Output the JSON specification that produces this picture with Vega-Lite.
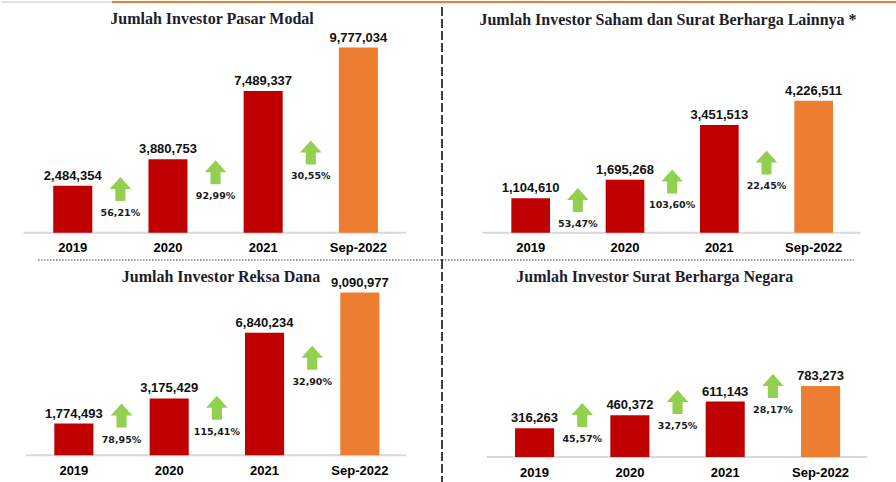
{
  "$schema": "https://vega.github.io/schema/vega-lite/v6.json",
  "padding": 0,
  "spacing": 0,
  "bounds": "flush",
  "columns": 2,
  "background": "white",
  "config": {
    "view": {"stroke": null},
    "title": {"font": "Liberation Serif", "fontSize": 16, "fontWeight": "bold", "color": "#1d1d2b", "anchor": "middle", "frame": "group", "baseline": "alphabetic"},
    "axisX": {"domain": false, "ticks": false, "tickSize": 0, "grid": false, "labelPadding": 15, "labelBaseline": "middle", "labelAngle": 0, "labelFont": "Liberation Sans", "labelFontSize": 13, "labelFontWeight": "bold", "labelColor": "#000000"}
  },
  "datasets": {
    "bars": [
      {"panel": "modal", "period": "2019", "value": 2484354, "period_type": "Full year"},
      {"panel": "modal", "period": "2020", "value": 3880753, "period_type": "Full year"},
      {"panel": "modal", "period": "2021", "value": 7489337, "period_type": "Full year"},
      {"panel": "modal", "period": "Sep-2022", "value": 9777034, "period_type": "Year to date"},
      {"panel": "saham", "period": "2019", "value": 1104610, "period_type": "Full year"},
      {"panel": "saham", "period": "2020", "value": 1695268, "period_type": "Full year"},
      {"panel": "saham", "period": "2021", "value": 3451513, "period_type": "Full year"},
      {"panel": "saham", "period": "Sep-2022", "value": 4226511, "period_type": "Year to date"},
      {"panel": "reksa", "period": "2019", "value": 1774493, "period_type": "Full year"},
      {"panel": "reksa", "period": "2020", "value": 3175429, "period_type": "Full year"},
      {"panel": "reksa", "period": "2021", "value": 6840234, "period_type": "Full year"},
      {"panel": "reksa", "period": "Sep-2022", "value": 9090977, "period_type": "Year to date"},
      {"panel": "sbn", "period": "2019", "value": 316263, "period_type": "Full year"},
      {"panel": "sbn", "period": "2020", "value": 460372, "period_type": "Full year"},
      {"panel": "sbn", "period": "2021", "value": 611143, "period_type": "Full year"},
      {"panel": "sbn", "period": "Sep-2022", "value": 783273, "period_type": "Year to date"}
    ],
    "growth": [
      {"panel": "modal", "from": "2019", "to": "2020", "growth": "56,21%", "level": 2309000},
      {"panel": "modal", "from": "2020", "to": "2021", "growth": "92,99%", "level": 3196000},
      {"panel": "modal", "from": "2021", "to": "Sep-2022", "growth": "30,55%", "level": 4237000},
      {"panel": "saham", "from": "2019", "to": "2020", "growth": "53,47%", "level": 1048000},
      {"panel": "saham", "from": "2020", "to": "2021", "growth": "103,60%", "level": 1641000},
      {"panel": "saham", "from": "2021", "to": "Sep-2022", "growth": "22,45%", "level": 2250000},
      {"panel": "reksa", "from": "2019", "to": "2020", "growth": "78,95%", "level": 2223000},
      {"panel": "reksa", "from": "2020", "to": "2021", "growth": "115,41%", "level": 2659000},
      {"panel": "reksa", "from": "2021", "to": "Sep-2022", "growth": "32,90%", "level": 5453000},
      {"panel": "sbn", "from": "2019", "to": "2020", "growth": "45,57%", "level": 463100},
      {"panel": "sbn", "from": "2020", "to": "2021", "growth": "32,75%", "level": 606400},
      {"panel": "sbn", "from": "2021", "to": "Sep-2022", "growth": "28,17%", "level": 782800}
    ]
  },
  "concat": [
    {
      "width": 441,
      "height": 259,
      "title": {"text": "Jumlah Investor Pasar Modal", "dx": -9.5, "offset": -26},
      "layer": [
        {"data": {"values": [{}]}, "mark": {"type": "rule", "color": "#D9D9D9", "strokeWidth": 1.5},
         "encoding": {"y": {"datum": 12187000, "type": "quantitative", "scale": {"domain": [-1442000, 12240000], "nice": false, "zero": false}, "axis": null}}},
        {"data": {"values": [{}]}, "mark": {"type": "rule", "color": "#ED7D31", "strokeWidth": 2},
         "encoding": {
           "x": {"datum": "2019", "type": "nominal", "bandPosition": 1.506, "scale": {"domain": ["2019", "2020", "2021", "Sep-2022"], "paddingInner": 0.59, "paddingOuter": 0.611, "align": 0.449}, "axis": {"offset": -27.3}, "title": null},
           "x2": {"value": "width"},
           "y": {"datum": 12187000, "type": "quantitative", "scale": {"domain": [-1442000, 12240000], "nice": false, "zero": false}, "axis": null}}},
        {"data": {"values": [{}]}, "mark": {"type": "rule", "color": "#000000", "strokeWidth": 1.5, "strokeDash": [9, 3]},
         "encoding": {
           "x": {"value": "width"},
           "y": {"datum": 11923000, "type": "quantitative", "scale": {"domain": [-1442000, 12240000], "nice": false, "zero": false}, "axis": null},
           "y2": {"value": "height"}}},
        {"data": {"values": [{}]}, "mark": {"type": "rule", "color": "#404040", "strokeWidth": 1, "strokeDash": [1.5, 1.5]},
         "encoding": {
           "x": {"datum": "2019", "type": "nominal", "bandPosition": -0.389, "scale": {"domain": ["2019", "2020", "2021", "Sep-2022"], "paddingInner": 0.59, "paddingOuter": 0.611, "align": 0.449}, "axis": {"offset": -27.3}, "title": null},
           "x2": {"value": "width"},
           "y": {"value": "height"}}},
        {"data": {"values": [{}]}, "mark": {"type": "rule", "color": "#D9D9D9", "strokeWidth": 2},
         "encoding": {
           "x": {"datum": "2019", "type": "nominal", "bandPosition": -0.759, "scale": {"domain": ["2019", "2020", "2021", "Sep-2022"], "paddingInner": 0.59, "paddingOuter": 0.611, "align": 0.449}, "axis": {"offset": -27.3}, "title": null},
           "x2": {"datum": "Sep-2022", "bandPosition": 1.72},
           "y": {"datum": 0, "type": "quantitative", "scale": {"domain": [-1442000, 12240000], "nice": false, "zero": false}, "axis": null}}},
        {"data": {"name": "bars"}, "transform": [{"filter": "datum.panel === 'modal'"}],
         "mark": {"type": "bar"},
         "encoding": {
           "x": {"field": "period", "type": "nominal", "title": null, "scale": {"domain": ["2019", "2020", "2021", "Sep-2022"], "paddingInner": 0.59, "paddingOuter": 0.611, "align": 0.449}, "axis": {"offset": -27.3}},
           "y": {"field": "value", "type": "quantitative", "scale": {"domain": [-1442000, 12240000], "nice": false, "zero": false}, "axis": null},
           "color": {"field": "period_type", "type": "nominal", "scale": {"domain": ["Full year", "Year to date"], "range": ["#C00000", "#ED7D31"]}, "legend": null}}},
        {"data": {"name": "bars"}, "transform": [{"filter": "datum.panel === 'modal'"}],
         "mark": {"type": "text", "font": "Liberation Sans", "fontWeight": "bold", "fontSize": 13, "baseline": "alphabetic", "dy": -6, "color": "#111111"},
         "encoding": {
           "x": {"field": "period", "type": "nominal", "title": null, "scale": {"domain": ["2019", "2020", "2021", "Sep-2022"], "paddingInner": 0.59, "paddingOuter": 0.611, "align": 0.449}, "axis": {"offset": -27.3}},
           "y": {"field": "value", "type": "quantitative", "scale": {"domain": [-1442000, 12240000], "nice": false, "zero": false}, "axis": null},
           "text": {"field": "value", "type": "quantitative", "format": ","}}},
        {"data": {"name": "growth"}, "transform": [{"filter": "datum.panel === 'modal'"}],
         "mark": {"type": "point", "shape": "M0,-1L0.9,0L0.42,0L0.42,1L-0.42,1L-0.42,0L-0.9,0Z", "size": 576, "filled": true, "color": "#92D050", "opacity": 1, "strokeWidth": 0},
         "encoding": {
           "x": {"field": "from", "type": "nominal", "bandPosition": 1.7195, "title": null, "scale": {"domain": ["2019", "2020", "2021", "Sep-2022"], "paddingInner": 0.59, "paddingOuter": 0.611, "align": 0.449}, "axis": {"offset": -27.3}},
           "y": {"field": "level", "type": "quantitative", "scale": {"domain": [-1442000, 12240000], "nice": false, "zero": false}, "axis": null}}},
        {"data": {"name": "growth"}, "transform": [{"filter": "datum.panel === 'modal'"}],
         "mark": {"type": "text", "font": "DejaVu Sans", "fontWeight": "bold", "fontSize": 9.5, "baseline": "middle", "dy": 24, "color": "#1a1a1a"},
         "encoding": {
           "x": {"field": "from", "type": "nominal", "bandPosition": 1.7195, "title": null, "scale": {"domain": ["2019", "2020", "2021", "Sep-2022"], "paddingInner": 0.59, "paddingOuter": 0.611, "align": 0.449}, "axis": {"offset": -27.3}},
           "y": {"field": "level", "type": "quantitative", "scale": {"domain": [-1442000, 12240000], "nice": false, "zero": false}, "axis": null},
           "text": {"field": "growth", "type": "nominal"}}}
      ]
    },
    {
      "width": 455,
      "height": 259,
      "title": {"text": "Jumlah Investor Saham dan Surat Berharga Lainnya *", "dx": -1.5, "offset": -27},
      "layer": [
        {"data": {"values": [{}]}, "mark": {"type": "rule", "color": "#ED7D31", "strokeWidth": 2},
         "encoding": {"y": {"datum": 7394000, "type": "quantitative", "scale": {"domain": [-875000, 7426000], "nice": false, "zero": false}, "axis": null}}},
        {"data": {"values": [{}]}, "mark": {"type": "rule", "color": "#404040", "strokeWidth": 1, "strokeDash": [1.5, 1.5]},
         "encoding": {
           "x": {"datum": "2019", "type": "nominal", "bandPosition": -1.792, "scale": {"domain": ["2019", "2020", "2021", "Sep-2022"], "paddingInner": 0.59, "paddingOuter": 0.7067, "align": 0.52}, "axis": {"offset": -27.3}, "title": null},
           "x2": {"datum": "Sep-2022", "bandPosition": 1.543},
           "y": {"value": "height"}}},
        {"data": {"values": [{}]}, "mark": {"type": "rule", "color": "#D9D9D9", "strokeWidth": 2},
         "encoding": {
           "x": {"datum": "2019", "type": "nominal", "bandPosition": -0.75, "scale": {"domain": ["2019", "2020", "2021", "Sep-2022"], "paddingInner": 0.59, "paddingOuter": 0.7067, "align": 0.52}, "axis": {"offset": -27.3}, "title": null},
           "x2": {"datum": "Sep-2022", "bandPosition": 1.717},
           "y": {"datum": 0, "type": "quantitative", "scale": {"domain": [-875000, 7426000], "nice": false, "zero": false}, "axis": null}}},
        {"data": {"name": "bars"}, "transform": [{"filter": "datum.panel === 'saham'"}],
         "mark": {"type": "bar"},
         "encoding": {
           "x": {"field": "period", "type": "nominal", "title": null, "scale": {"domain": ["2019", "2020", "2021", "Sep-2022"], "paddingInner": 0.59, "paddingOuter": 0.7067, "align": 0.52}, "axis": {"offset": -27.3}},
           "y": {"field": "value", "type": "quantitative", "scale": {"domain": [-875000, 7426000], "nice": false, "zero": false}, "axis": null},
           "color": {"field": "period_type", "type": "nominal", "scale": {"domain": ["Full year", "Year to date"], "range": ["#C00000", "#ED7D31"]}, "legend": null}}},
        {"data": {"name": "bars"}, "transform": [{"filter": "datum.panel === 'saham'"}],
         "mark": {"type": "text", "font": "Liberation Sans", "fontWeight": "bold", "fontSize": 13, "baseline": "alphabetic", "dy": -6, "color": "#111111"},
         "encoding": {
           "x": {"field": "period", "type": "nominal", "title": null, "scale": {"domain": ["2019", "2020", "2021", "Sep-2022"], "paddingInner": 0.59, "paddingOuter": 0.7067, "align": 0.52}, "axis": {"offset": -27.3}},
           "y": {"field": "value", "type": "quantitative", "scale": {"domain": [-875000, 7426000], "nice": false, "zero": false}, "axis": null},
           "text": {"field": "value", "type": "quantitative", "format": ","}}},
        {"data": {"name": "growth"}, "transform": [{"filter": "datum.panel === 'saham'"}],
         "mark": {"type": "point", "shape": "M0,-1L0.9,0L0.42,0L0.42,1L-0.42,1L-0.42,0L-0.9,0Z", "size": 576, "filled": true, "color": "#92D050", "opacity": 1, "strokeWidth": 0},
         "encoding": {
           "x": {"field": "from", "type": "nominal", "bandPosition": 1.7195, "title": null, "scale": {"domain": ["2019", "2020", "2021", "Sep-2022"], "paddingInner": 0.59, "paddingOuter": 0.7067, "align": 0.52}, "axis": {"offset": -27.3}},
           "y": {"field": "level", "type": "quantitative", "scale": {"domain": [-875000, 7426000], "nice": false, "zero": false}, "axis": null}}},
        {"data": {"name": "growth"}, "transform": [{"filter": "datum.panel === 'saham'"}],
         "mark": {"type": "text", "font": "DejaVu Sans", "fontWeight": "bold", "fontSize": 9.5, "baseline": "middle", "dy": 24, "color": "#1a1a1a"},
         "encoding": {
           "x": {"field": "from", "type": "nominal", "bandPosition": 1.7195, "title": null, "scale": {"domain": ["2019", "2020", "2021", "Sep-2022"], "paddingInner": 0.59, "paddingOuter": 0.7067, "align": 0.52}, "axis": {"offset": -27.3}},
           "y": {"field": "level", "type": "quantitative", "scale": {"domain": [-875000, 7426000], "nice": false, "zero": false}, "axis": null},
           "text": {"field": "growth", "type": "nominal"}}}
      ]
    },
    {
      "width": 441,
      "height": 223,
      "title": {"text": "Jumlah Investor Reksa Dana", "dx": -0.5, "offset": -26},
      "layer": [
        {"data": {"values": [{}]}, "mark": {"type": "rule", "color": "#000000", "strokeWidth": 1.5, "strokeDash": [9, 3]},
         "encoding": {"x": {"value": "width"}}},
        {"data": {"values": [{}]}, "mark": {"type": "rule", "color": "#D9D9D9", "strokeWidth": 2},
         "encoding": {
           "x": {"datum": "2019", "type": "nominal", "bandPosition": -0.724, "scale": {"domain": ["2019", "2020", "2021", "Sep-2022"], "paddingInner": 0.59, "paddingOuter": 0.608, "align": 0.46}, "axis": {"offset": -27.7}, "title": null},
           "x2": {"datum": "Sep-2022", "bandPosition": 1.68},
           "y": {"datum": 0, "type": "quantitative", "scale": {"domain": [-1547000, 10911000], "nice": false, "zero": false}, "axis": null}}},
        {"data": {"name": "bars"}, "transform": [{"filter": "datum.panel === 'reksa'"}],
         "mark": {"type": "bar"},
         "encoding": {
           "x": {"field": "period", "type": "nominal", "title": null, "scale": {"domain": ["2019", "2020", "2021", "Sep-2022"], "paddingInner": 0.59, "paddingOuter": 0.608, "align": 0.46}, "axis": {"offset": -27.7}},
           "y": {"field": "value", "type": "quantitative", "scale": {"domain": [-1547000, 10911000], "nice": false, "zero": false}, "axis": null},
           "color": {"field": "period_type", "type": "nominal", "scale": {"domain": ["Full year", "Year to date"], "range": ["#C00000", "#ED7D31"]}, "legend": null}}},
        {"data": {"name": "bars"}, "transform": [{"filter": "datum.panel === 'reksa'"}],
         "mark": {"type": "text", "font": "Liberation Sans", "fontWeight": "bold", "fontSize": 13, "baseline": "alphabetic", "dy": -6, "color": "#111111"},
         "encoding": {
           "x": {"field": "period", "type": "nominal", "title": null, "scale": {"domain": ["2019", "2020", "2021", "Sep-2022"], "paddingInner": 0.59, "paddingOuter": 0.608, "align": 0.46}, "axis": {"offset": -27.7}},
           "y": {"field": "value", "type": "quantitative", "scale": {"domain": [-1547000, 10911000], "nice": false, "zero": false}, "axis": null},
           "text": {"field": "value", "type": "quantitative", "format": ","}}},
        {"data": {"name": "growth"}, "transform": [{"filter": "datum.panel === 'reksa'"}],
         "mark": {"type": "point", "shape": "M0,-1L0.9,0L0.42,0L0.42,1L-0.42,1L-0.42,0L-0.9,0Z", "size": 576, "filled": true, "color": "#92D050", "opacity": 1, "strokeWidth": 0},
         "encoding": {
           "x": {"field": "from", "type": "nominal", "bandPosition": 1.7195, "title": null, "scale": {"domain": ["2019", "2020", "2021", "Sep-2022"], "paddingInner": 0.59, "paddingOuter": 0.608, "align": 0.46}, "axis": {"offset": -27.7}},
           "y": {"field": "level", "type": "quantitative", "scale": {"domain": [-1547000, 10911000], "nice": false, "zero": false}, "axis": null}}},
        {"data": {"name": "growth"}, "transform": [{"filter": "datum.panel === 'reksa'"}],
         "mark": {"type": "text", "font": "DejaVu Sans", "fontWeight": "bold", "fontSize": 9.5, "baseline": "middle", "dy": 24, "color": "#1a1a1a"},
         "encoding": {
           "x": {"field": "from", "type": "nominal", "bandPosition": 1.7195, "title": null, "scale": {"domain": ["2019", "2020", "2021", "Sep-2022"], "paddingInner": 0.59, "paddingOuter": 0.608, "align": 0.46}, "axis": {"offset": -27.7}},
           "y": {"field": "level", "type": "quantitative", "scale": {"domain": [-1547000, 10911000], "nice": false, "zero": false}, "axis": null},
           "text": {"field": "growth", "type": "nominal"}}}
      ]
    },
    {
      "width": 455,
      "height": 223,
      "title": {"text": "Jumlah Investor Surat Berharga Negara", "dx": -14.7, "offset": -25.3},
      "layer": [
        {"data": {"values": [{}]}, "mark": {"type": "rule", "color": "#D9D9D9", "strokeWidth": 2},
         "encoding": {
           "x": {"datum": "2019", "type": "nominal", "bandPosition": -0.724, "scale": {"domain": ["2019", "2020", "2021", "Sep-2022"], "paddingInner": 0.59, "paddingOuter": 0.6815, "align": 0.562}, "axis": {"offset": -26}, "title": null},
           "x2": {"datum": "Sep-2022", "bandPosition": 1.696},
           "y": {"datum": 0, "type": "quantitative", "scale": {"domain": [-286700, 2172000], "nice": false, "zero": false}, "axis": null}}},
        {"data": {"name": "bars"}, "transform": [{"filter": "datum.panel === 'sbn'"}],
         "mark": {"type": "bar"},
         "encoding": {
           "x": {"field": "period", "type": "nominal", "title": null, "scale": {"domain": ["2019", "2020", "2021", "Sep-2022"], "paddingInner": 0.59, "paddingOuter": 0.6815, "align": 0.562}, "axis": {"offset": -26}},
           "y": {"field": "value", "type": "quantitative", "scale": {"domain": [-286700, 2172000], "nice": false, "zero": false}, "axis": null},
           "color": {"field": "period_type", "type": "nominal", "scale": {"domain": ["Full year", "Year to date"], "range": ["#C00000", "#ED7D31"]}, "legend": null}}},
        {"data": {"name": "bars"}, "transform": [{"filter": "datum.panel === 'sbn'"}],
         "mark": {"type": "text", "font": "Liberation Sans", "fontWeight": "bold", "fontSize": 13, "baseline": "alphabetic", "dy": -6, "color": "#111111"},
         "encoding": {
           "x": {"field": "period", "type": "nominal", "title": null, "scale": {"domain": ["2019", "2020", "2021", "Sep-2022"], "paddingInner": 0.59, "paddingOuter": 0.6815, "align": 0.562}, "axis": {"offset": -26}},
           "y": {"field": "value", "type": "quantitative", "scale": {"domain": [-286700, 2172000], "nice": false, "zero": false}, "axis": null},
           "text": {"field": "value", "type": "quantitative", "format": ","}}},
        {"data": {"name": "growth"}, "transform": [{"filter": "datum.panel === 'sbn'"}],
         "mark": {"type": "point", "shape": "M0,-1L0.9,0L0.42,0L0.42,1L-0.42,1L-0.42,0L-0.9,0Z", "size": 576, "filled": true, "color": "#92D050", "opacity": 1, "strokeWidth": 0},
         "encoding": {
           "x": {"field": "from", "type": "nominal", "bandPosition": 1.7195, "title": null, "scale": {"domain": ["2019", "2020", "2021", "Sep-2022"], "paddingInner": 0.59, "paddingOuter": 0.6815, "align": 0.562}, "axis": {"offset": -26}},
           "y": {"field": "level", "type": "quantitative", "scale": {"domain": [-286700, 2172000], "nice": false, "zero": false}, "axis": null}}},
        {"data": {"name": "growth"}, "transform": [{"filter": "datum.panel === 'sbn'"}],
         "mark": {"type": "text", "font": "DejaVu Sans", "fontWeight": "bold", "fontSize": 9.5, "baseline": "middle", "dy": 24, "color": "#1a1a1a"},
         "encoding": {
           "x": {"field": "from", "type": "nominal", "bandPosition": 1.7195, "title": null, "scale": {"domain": ["2019", "2020", "2021", "Sep-2022"], "paddingInner": 0.59, "paddingOuter": 0.6815, "align": 0.562}, "axis": {"offset": -26}},
           "y": {"field": "level", "type": "quantitative", "scale": {"domain": [-286700, 2172000], "nice": false, "zero": false}, "axis": null},
           "text": {"field": "growth", "type": "nominal"}}}
      ]
    }
  ]
}
